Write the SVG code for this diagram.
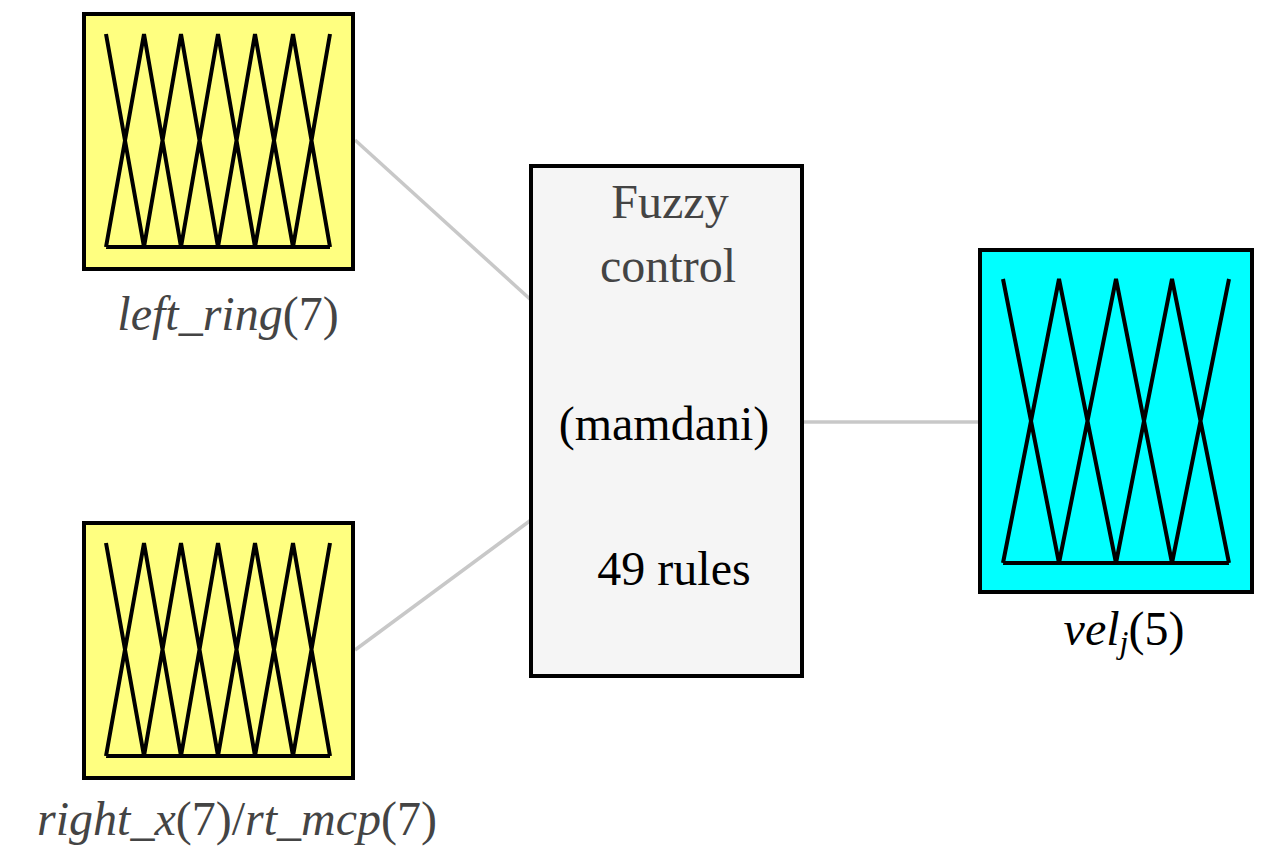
<svg xmlns="http://www.w3.org/2000/svg" width="1277" height="865" viewBox="0 0 1277 865">
<style>
.box{stroke:#000;stroke-width:4}
.mf{fill:none;stroke:#000;stroke-width:4;stroke-linejoin:miter}
.t{font-family:"Liberation Serif","DejaVu Serif",serif;font-size:48px;text-anchor:middle}
.g{fill:#444}
</style>
<rect width="1277" height="865" fill="#fff"/>
<g id="connectors" stroke="#c8c8c8" stroke-width="3.5">
<line x1="355" y1="140" x2="531" y2="300"/>
<line x1="355" y1="650" x2="531" y2="520"/>
<line x1="802" y1="422" x2="980" y2="422"/>
</g>
<g id="left_ring">
<rect class="box" x="84" y="14" width="269" height="255" fill="#ffff80"/>
<path class="mf" d="M106,34 L144,247 L181,34 L218,247 L255,34 L293,247 L330,34 M106,247 L144,34 L181,247 L218,34 L255,247 L293,34 L330,247 M106,247 H330"/>
<text class="t g" x="228" y="330" font-style="italic">left_ring<tspan font-style="normal">(7)</tspan></text>
</g>
<g id="right_x">
<rect class="box" x="84" y="523" width="269" height="255" fill="#ffff80"/>
<path class="mf" d="M106,543 L144,756 L181,543 L218,756 L255,543 L293,756 L330,543 M106,756 L144,543 L181,756 L218,543 L255,756 L293,543 L330,756 M106,756 H330"/>
<text class="t g" x="237" y="835" font-style="italic">right_x<tspan font-style="normal">(7)/</tspan>rt_mcp<tspan font-style="normal">(7)</tspan></text>
</g>
<g id="fuzzy">
<rect class="box" x="531" y="166" width="271" height="510" fill="#f5f5f5"/>
<text class="t g" x="670" y="218">Fuzzy</text>
<text class="t g" x="668" y="282">control</text>
<text class="t" x="664" y="440">(mamdani)</text>
<text class="t" x="674" y="585">49 rules</text>
</g>
<g id="vel">
<rect class="box" x="980" y="250" width="272" height="342" fill="#00ffff"/>
<path class="mf" d="M1003,279 L1059,563 L1116,279 L1172,563 L1229,279 M1003,563 L1059,279 L1116,563 L1172,279 L1229,563 M1003,563 H1229"/>
<text class="t" x="1124" y="645"><tspan font-style="italic">vel</tspan><tspan font-style="italic" font-size="32" dy="8">j</tspan><tspan dy="-8">(5)</tspan></text>
</g>
</svg>
